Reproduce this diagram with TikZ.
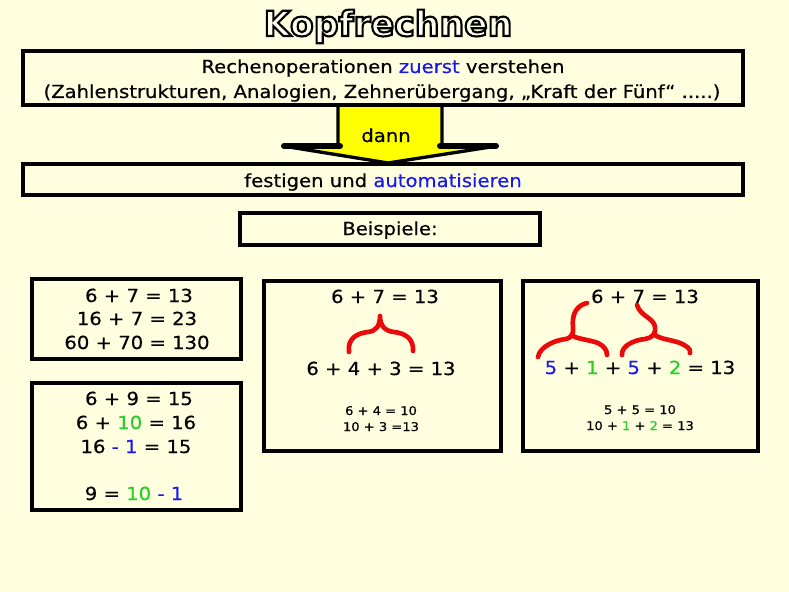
\documentclass[tikz,border=0pt]{standalone}
\usepackage{fontspec}
\setmainfont{DejaVu Sans}[FakeStretch=1.09,FakeBold=0.5]
\newfontfamily\titlefont{DejaVu Sans Bold}
\usetikzlibrary{fit}
\definecolor{bg}{RGB}{255,255,224}
\definecolor{titlefill}{RGB}{255,255,238}
\definecolor{myblue}{RGB}{25,25,235}
\definecolor{mygreen}{RGB}{40,205,40}
\definecolor{myred}{RGB}{235,10,10}
\definecolor{arrowyellow}{RGB}{255,255,0}
\newcommand{\bl}[1]{\textcolor{myblue}{#1}}
\newcommand{\gr}[1]{\textcolor{mygreen}{#1}}
\newcommand{\outlined}[1]{\special{pdf:literal direct 2 Tr 1.6 w 0 0 0 RG}#1\special{pdf:literal direct 0 Tr}}
\begin{document}
\begin{tikzpicture}[x=0.75pt,y=-0.75pt,
  frame/.style={draw=black, line width=2.4pt, fill=bg, inner sep=0pt},
  txt/.style={anchor=base, inner sep=0pt, font=\fontsize{13.5}{16}\selectfont},
  smalltxt/.style={anchor=base, inner sep=0pt, font=\fontsize{9}{11}\selectfont},
  titletxt/.style={anchor=base, inner sep=0pt, font=\fontsize{26}{30}\selectfont\titlefont},
  brace/.style={draw=myred, line width=3.5pt, line cap=round, line join=round}]
\fill[bg] (0,0) rectangle (789,592);
\useasboundingbox (0,0) rectangle (789,592);

% title with outline
\node[titletxt, text=titlefill] (title) at (388,36) {\outlined{Kopfrechnen}};

% arrow
\draw[fill=arrowyellow, line width=2.5pt, line join=round]
  (338,104) -- (338,145) -- (283,146) -- (388,163) -- (497,146) -- (442,145) -- (442,104);
\draw[line width=4.5pt, line cap=round] (284,146) -- (340,146);
\draw[line width=4.5pt, line cap=round] (440,146) -- (496,146);

% top boxes
\node[frame, fit={(23,51)(743,105)}] (b1) {};
\node[txt] (b1l1) at (383,73) {Rechenoperationen \bl{zuerst} verstehen};
\node[txt] (b1l2) at (382,98) {(Zahlenstrukturen, Analogien, Zehnerübergang, „Kraft der Fünf“ .....)};
\node[txt] (dann) at (386,142) {dann};

\node[frame, fit={(23,164)(743,195)}] (b2) {};
\node[txt] (b2l) at (383,187) {festigen und \bl{automatisieren}};

\node[frame, fit={(240,213)(540,245)}] (b3) {};
\node[txt] (b3l) at (390,235) {Beispiele:};

% box A
\node[frame, fit={(32,279)(241,359)}] (bA) {};
\node[txt] (a1) at (139,302) {6 + 7 = 13};
\node[txt] (a2) at (137,325) {16 + 7 = 23};
\node[txt] (a3) at (137,349) {60 + 70 = 130};

% box B
\node[frame, fit={(32,383)(241,510)}] (bB) {};
\node[txt] (c1) at (139,405) {6 + 9 = 15};
\node[txt] (c2) at (136,429) {6 + \gr{10} = 16};
\node[txt] (c3) at (136,453) {16 \bl{- 1} = 15};
\node[txt] (c4) at (134,500) {9 = \gr{10} \bl{- 1}};

% box C
\node[frame, fit={(264,281)(501,451)}] (bC) {};
\node[txt] (d1) at (385,303) {6 + 7 = 13};
\node[txt] (d2) at (381,375) {6 + 4 + 3 = 13};
\node[smalltxt] (d3) at (381,415) {6 + 4 = 10};
\node[smalltxt] (d4) at (381,431) {10 + 3 =13};
\draw[brace] (349,352) .. controls (347,338) and (358,333) .. (368,332)
  .. controls (376,331) and (380,326) .. (380,316)
  .. controls (380,326) and (385,331) .. (394,332)
  .. controls (404,333) and (414,338) .. (413,351);

% box D
\node[frame, fit={(523,281)(758,451)}] (bD) {};
\node[txt] (e1) at (645,303) {6 + 7 = 13};
\node[txt] (e2) at (640,374) {\bl{5} + \gr{1} + \bl{5} + \gr{2} = 13};
\node[smalltxt] (e3) at (640,414) {5 + 5 = 10};
\node[smalltxt] (e4) at (640,430) {10 + \gr{1} + \gr{2} = 13};
\draw[brace] (538,357) .. controls (540,346) and (556,340) .. (566,339)
  .. controls (571,338) and (574,334) .. (573,327)
  .. controls (572,318) and (574,306) .. (587,303);
\draw[brace] (573,336) .. controls (578,339) and (590,340) .. (598,343)
  .. controls (604,346) and (607,350) .. (607,355);
\draw[brace] (622,355) .. controls (621,346) and (634,340) .. (645,339)
  .. controls (652,338) and (656,334) .. (655,327)
  .. controls (654,318) and (640,316) .. (637,305);
\draw[brace] (655,335) .. controls (660,339) and (672,340) .. (680,343)
  .. controls (687,346) and (691,349) .. (690,353);
\end{tikzpicture}
\end{document}
